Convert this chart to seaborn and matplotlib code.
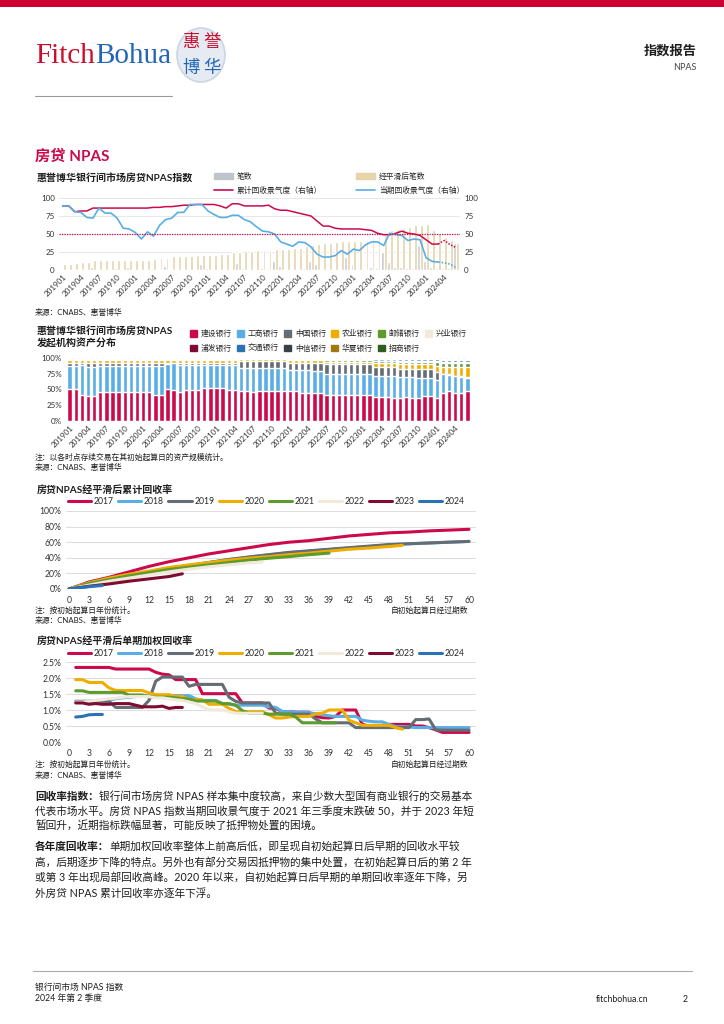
import numpy as np
import pandas as pd
import matplotlib
matplotlib.use('Agg')
import matplotlib.pyplot as plt
from matplotlib.patches import Ellipse, Rectangle, Patch
from matplotlib.lines import Line2D
from matplotlib.ticker import FuncFormatter
import seaborn as sns

# ---------------- data ----------------
# chart 1: 201901 - 202406, monthly
months = [f'{y}{m:02d}' for y in range(2019, 2025) for m in range(1, 13)][:66]
tick_labels = ['201901', '201904', '201907', '201910', '202001', '202004', '202007', '202010',
               '202101', '202104', '202107', '202110', '202201', '202204', '202207', '202210',
               '202301', '202304', '202307', '202310', '202401', '202404']

cnt = [2, 1, 2, 1, 2, 4, 1, 1, 1, 3, 1, 4, 2, 1, 1, 3, 1, 6, 2, 1, 2, 1,
       1, 9, 3, 2, 1, 2, 1, 10, 3, 2, 2, 3, 2, 12, 6, 2, 2, 2, 3, 13,
       8, 2, 2, 2, 2, 18, 9, 3, 2, 4, 3, 25, 11, 4, 4, 3, 3, 35, 12, 4, 3, 3, 3, 37]
cnt_smooth = [8, 8, 10, 11, 11, 14, 14, 14, 14, 14, 14, 14, 14, 14, 14, 15, 16, 17, 19, 20, 20, 20,
              21, 21, 21, 21, 22, 22, 25, 25, 26, 27, 28, 28, 28, 29, 29, 29, 30, 31, 33, 35,
              36, 38, 38, 39, 40, 40, 40, 40, 41, 45, 47, 49, 55, 57, 58, 60, 62, 63, 64, 56, 51, 46, 41, 38]
cum_idx = [89, 89, 81, 82, 82, 86, 86, 86, 86, 86, 86, 86, 86, 86, 86, 87, 87, 88, 88, 89, 90, 90,
           91, 91, 91, 91, 89, 86, 92, 92, 89, 89, 89, 89, 90, 85, 83, 83, 81, 79, 77, 75,
           68, 61, 61, 58, 57, 57, 57, 57, 56, 55, 51, 49, 49, 51, 54, 51, 50, 48, 42, 36, 36, 41, 35, 31]
cur_idx = [89, 89, 81, 80, 73, 72, 86, 79, 79, 72, 58, 57, 52, 43, 53, 47, 62, 70, 72, 80, 80, 91,
           91, 91, 82, 77, 73, 73, 76, 76, 70, 67, 60, 54, 53, 50, 39, 36, 33, 39, 38, 32,
           22, 18, 18, 20, 27, 22, 29, 27, 35, 39, 39, 34, 51, 49, 48, 41, 43, 42, 17, 12, 11, 10, 8, 3]

# chart 2: originator shares (%), bottom -> top
banks = ['建设银行', '工商银行', '中国银行', '农业银行', '邮储银行', '兴业银行',
         '浦发银行', '交通银行', '中信银行', '华夏银行', '招商银行']
jh = [51, 51, 41, 40, 40, 46, 46, 46, 46, 46, 46, 46, 46, 46, 41, 41, 51, 49, 46, 50, 50, 50,
      52, 52, 52, 52, 49, 49, 47, 47, 46, 47, 47, 47, 47, 47, 47, 47, 45, 44, 44, 44, 42, 42,
      42, 41, 42, 42, 42, 42, 38, 38, 38, 37, 37, 38, 37, 37, 39, 39, 36, 44, 47, 44, 44, 47]
gs = [36, 36, 48, 45, 45, 42, 42, 42, 42, 42, 42, 42, 42, 42, 47, 47, 40, 43, 43, 39, 39, 39,
      37, 37, 37, 37, 40, 40, 37, 37, 38, 37, 37, 37, 37, 37, 34, 34, 36, 37, 35, 35, 33, 33,
      33, 34, 33, 33, 33, 33, 34, 34, 34, 35, 33, 32, 33, 31, 29, 29, 29, 30, 26, 27, 26, 22]
zg = [5.5, 5.5, 3.5, 7.5, 7.5, 4.5, 4.5, 4.5, 4.5, 4.5, 4.5, 4.5, 4.5, 4.5, 4.5, 4.5, 1.5, 0.5, 3.5, 3.5, 3.5, 3.5,
      3.5, 3.5, 3.5, 3.5, 3.5, 3.5, 12, 12, 12, 12, 12, 12, 12, 12, 11.5, 11.5, 11.5, 11.5, 13.5, 13.5, 15, 15,
      15, 15, 15, 15, 15, 15, 13.5, 13.5, 13.5, 13.5, 12, 12, 12, 14, 14, 14, 13.5, 1, 1, 1, 1, 1]
ny = [5, 5, 5, 5, 5, 5, 5, 5, 5, 5, 5, 5, 5, 5, 5, 5, 5, 5, 5, 5, 5, 5,
      5, 5, 5, 5, 5, 5, 2, 2, 2, 2, 2, 2, 2, 2, 4, 4, 4, 4, 4, 4, 4, 4,
      4, 4, 4, 4, 4, 4, 6, 6, 6, 6, 8, 8, 8, 8, 8, 8, 9, 10, 11, 13, 14, 15]
yc = [0, 0, 0, 0, 0, 0, 0, 0, 0, 0, 0, 0, 0, 0, 0, 0, 0, 0, 0, 0, 0, 0,
      0, 0, 0, 0, 0, 0, 1, 1, 1, 1, 1, 1, 1, 1, 1.5, 1.5, 1.5, 1.5, 1.5, 1.5, 2.5, 2.5,
      2.5, 2.5, 2.5, 2.5, 2.5, 2.5, 3, 3, 3, 3, 4, 4, 4, 4, 4, 4, 6, 7, 7, 7, 7, 7]
xy = [1, 1, 1, 1, 1, 1, 1, 1, 1, 1, 1, 1, 1, 1, 1, 1, 1, 1, 1, 1, 1, 1,
      1, 1, 1, 1, 1, 1, 0.5, 0.5, 0.5, 0.5, 0.5, 0.5, 0.5, 0.5, 0.5, 0.5, 0.5, 0.5, 0.5, 0.5, 0.5, 0.5,
      0.5, 0.5, 0.5, 0.5, 0.5, 0.5, 0.5, 0.5, 0.5, 0.5, 0.5, 0.5, 0.5, 0.5, 0.5, 0.5, 0.5, 0.5, 0.5, 0.5, 0.5, 0.5]
pf = [0, 0, 0, 0, 0, 0, 0, 0, 0, 0, 0, 0, 0, 0, 0, 0, 0, 0, 0, 0, 0, 0,
      0, 0, 0, 0, 0, 0, 0, 0, 0, 0, 0, 0, 0, 0, 0.5, 0.5, 0.5, 0.5, 0.5, 0.5, 1, 1,
      1, 1, 1, 1, 1, 1, 1, 1, 1, 1, 1, 1, 1, 1, 1, 1, 1, 1, 1, 1, 1, 1]
jt = [0, 0, 0, 0, 0, 0, 0, 0, 0, 0, 0, 0, 0, 0, 0, 0, 0, 0, 0, 0, 0, 0,
      0, 0, 0, 0, 0, 0, 0, 0, 0, 0, 0, 0, 0, 0, 0, 0, 0, 0, 0, 0, 0.5, 0.5,
      0.5, 0.5, 0.5, 0.5, 0.5, 0.5, 2, 2, 2, 2, 2.5, 2.5, 2.5, 2.5, 2.5, 2.5, 3, 4, 4, 4, 4, 4]
zx = [0, 0, 0, 0, 0, 0, 0, 0, 0, 0, 0, 0, 0, 0, 0, 0, 0, 0, 0, 0, 0, 0,
      0, 0, 0, 0, 0, 0, 0, 0, 0, 0, 0, 0, 0, 0, 0.5, 0.5, 0.5, 0.5, 0.5, 0.5, 0.5, 0.5,
      0.5, 0.5, 0.5, 0.5, 0.5, 0.5, 1, 1, 1, 1, 1, 1, 1, 1, 1, 1, 1, 1, 1, 1, 1, 1]
hx = [1.5, 1.5, 1.5, 1.5, 1.5, 1.5, 1.5, 1.5, 1.5, 1.5, 1.5, 1.5, 1.5, 1.5, 1.5, 1.5, 1.5, 1.5, 1.5, 1.5, 1.5, 1.5,
      1.5, 1.5, 1.5, 1.5, 1.5, 1.5, 0.5, 0.5, 0.5, 0.5, 0.5, 0.5, 0.5, 0.5, 0.5, 0.5, 0.5, 0.5, 0.5, 0.5, 0.5, 0.5,
      0.5, 0.5, 0.5, 0.5, 0.5, 0.5, 0.5, 0.5, 0.5, 0.5, 0.5, 0.5, 0.5, 0.5, 0.5, 0.5, 0.5, 0.5, 0.5, 0.5, 0.5, 0.5]
zs = [0, 0, 0, 0, 0, 0, 0, 0, 0, 0, 0, 0, 0, 0, 0, 0, 0, 0, 0, 0, 0, 0,
      0, 0, 0, 0, 0, 0, 0, 0, 0, 0, 0, 0, 0, 0, 0, 0, 0, 0, 0, 0, 0.5, 0.5,
      0.5, 0.5, 0.5, 0.5, 0.5, 0.5, 0.5, 0.5, 0.5, 0.5, 0.5, 0.5, 0.5, 0.5, 0.5, 0.5, 0.5, 1, 1, 1, 1, 1]

# chart 3: cumulative recovery (%) by vintage, read every 3 periods
years = ['2017', '2018', '2019', '2020', '2021', '2022', '2023', '2024']
c3_x_full = [0, 3, 6, 9, 12, 15, 18, 21, 24, 27, 30, 33, 36, 39, 42, 45, 48, 51, 54, 57, 60]
c3_2017 = [0, 9, 15, 22, 29, 35, 40, 45, 49, 53, 57, 60, 62, 65, 68, 70, 72, 73, 74.5, 75.5, 76.5]
c3_2018 = [0, 7, 13, 17.5, 22, 26.5, 30, 34, 37.5, 41, 44, 46.5, 48.5, 50.5, 52.5, 54.5, 56.5, 58, 59, 60, 61]
c3_2019 = [0, 7, 13, 18, 22, 27, 30, 34, 38, 41, 44, 47, 49, 51, 53, 55, 57, 58, 59, 60, 61]
c3_x_2020 = [0, 3, 6, 9, 12, 15, 18, 21, 24, 27, 30, 33, 36, 39, 42, 45, 48, 50]
c3_2020 = [0, 8, 14, 19, 23, 27.5, 31, 34, 37, 39.5, 41.5, 44, 46, 48.5, 51, 52.5, 54.5, 56]
c3_x_2021 = [0, 3, 6, 9, 12, 15, 18, 21, 24, 27, 30, 33, 36, 39]
c3_2021 = [0, 7, 12, 17, 21, 25, 28, 31, 34, 37, 39.5, 41.5, 44, 46]
c3_x_2022 = [0, 3, 6, 9, 12, 15, 18, 21, 24, 27, 29]
c3_2022 = [0, 5, 10, 14, 18, 22, 25.5, 28.5, 31, 33.5, 34.5]
c3_x_2023 = [0, 3, 6, 9, 12, 15, 17]
c3_2023 = [0, 3.5, 6.5, 10, 13, 16, 19.5]
c3_x_2024 = [0, 3, 5]
c3_2024 = [0, 3, 4.5]

# chart 4: single-period weighted recovery (%), from period 1
c4_2017 = [2.33, 2.33, 2.33, 2.33, 2.33, 2.33, 2.28, 2.28, 2.28, 2.28, 2.28, 2.28,
           2.18, 2.12, 2.10, 1.95, 1.95, 1.95, 1.95, 1.51, 1.51, 1.51, 1.51, 1.51, 1.51,
           1.22, 1.22, 1.22, 1.22, 1.06, 1.05, 0.95, 0.95, 0.93, 0.93, 0.93,
           0.80, 0.76, 0.75, 0.80, 1.00, 1.00, 1.00, 0.55, 0.50, 0.50, 0.52,
           0.55, 0.55, 0.55, 0.55, 0.50, 0.50, 0.45, 0.38, 0.30, 0.30, 0.30, 0.30, 0.30]
c4_2018 = [1.27, 1.27, 1.27, 1.28, 1.30, 1.30, 1.35, 1.38, 1.40, 1.42, 1.44, 1.45,
           1.45, 1.45, 1.45, 1.45, 1.45, 1.45, 1.35, 1.30, 1.30, 1.30,
           1.20, 1.18, 1.15, 1.15, 1.15, 1.15, 1.15, 1.10, 1.08, 0.95, 0.95, 0.93, 0.93, 0.92,
           0.88, 0.85, 0.82, 0.80, 0.80, 0.80, 0.80, 0.68, 0.65, 0.63, 0.63, 0.55,
           0.48, 0.48, 0.47, 0.45, 0.45, 0.45, 0.45, 0.45, 0.45, 0.45, 0.45, 0.45]
c4_2019 = [1.27, 1.27, 1.27, 1.27, 1.27, 1.27, 1.08, 1.08, 1.08, 1.08, 1.08,
           1.30, 1.90, 2.03, 2.03, 2.03, 2.03, 1.74, 1.80, 1.80, 1.80, 1.80, 1.80,
           1.40, 1.27, 1.22, 1.22, 1.22, 1.22, 1.22, 0.90, 0.87, 0.87, 0.87, 0.87, 0.87,
           0.72, 0.60, 0.60, 0.60, 0.60, 0.60, 0.45, 0.45, 0.45, 0.45, 0.45, 0.45, 0.45, 0.45, 0.45,
           0.70, 0.70, 0.72, 0.38, 0.37, 0.37, 0.37, 0.37, 0.37]
c4_2020 = [1.95, 1.95, 1.86, 1.86, 1.86, 1.69, 1.61, 1.61, 1.61, 1.61, 1.61,
           1.53, 1.48, 1.48, 1.48, 1.42, 1.42, 1.32, 1.32, 1.32, 1.18, 1.18, 1.18, 1.05,
           0.95, 0.95, 0.95, 0.95, 0.95, 0.85, 0.75, 0.75, 0.78, 0.80, 0.80, 0.80,
           0.88, 0.90, 1.00, 1.00, 1.00, 0.68, 0.60, 0.52, 0.52, 0.52, 0.52, 0.52, 0.45, 0.40]
c4_2021 = [1.60, 1.60, 1.55, 1.55, 1.55, 1.55, 1.55, 1.55, 1.47, 1.47, 1.47,
           1.40, 1.40, 1.40, 1.40, 1.38, 1.35, 1.35, 1.28, 1.28, 1.28, 1.28, 1.20, 1.20, 1.15,
           0.98, 0.90, 0.90, 0.90, 0.87, 0.87, 0.87, 0.87, 0.78, 0.60, 0.60, 0.60, 0.60, 0.60, 0.60]
c4_2022 = [1.25, 1.25, 1.27, 1.30, 1.32, 1.35, 1.37, 1.40, 1.42, 1.42, 1.42, 1.42, 1.38, 1.38,
           1.35, 1.32, 1.30, 1.25, 1.20, 1.10, 1.00, 1.00, 1.00, 0.95, 0.90, 0.90, 0.90, 0.90, 0.90]
c4_2023 = [1.22, 1.22, 1.18, 1.20, 1.18, 1.18, 1.20, 1.20, 1.20, 1.15, 1.10, 1.10, 1.10, 1.12, 1.05, 1.08, 1.08]
c4_2024 = [0.78, 0.80, 0.85, 0.86, 0.86]

# ---------------- style ----------------
RED = '#cc0a4b'
LBLUE = '#5aaee6'
GRAY = '#646c74'
ORANGE = '#f0ad00'
GREEN = '#5e9b2d'
BEIGE = '#f1e9da'
DRED = '#7d0c30'
BLUE = '#2a72b5'
year_colors = dict(zip(years, [RED, LBLUE, GRAY, ORANGE, GREEN, BEIGE, DRED, BLUE]))
bank_colors = [RED, LBLUE, GRAY, ORANGE, GREEN, BEIGE, DRED, BLUE, '#3b3f44', '#a07a10', '#2f5f1f']
BAR_GRAY = '#bfc4ca'
BAR_BEIGE = '#e6d4aa'
TXT = '#1e1e1e'
TICK = '#333333'
GRID = '#dedede'

sns.set_theme(style='white')
plt.rcParams['font.family'] = ['Lato', 'Noto Sans CJK SC', 'DejaVu Sans']
plt.rcParams['axes.unicode_minus'] = False

W, H = 724, 1024
fig = plt.figure(figsize=(W / 100, H / 100), dpi=100)


def box(x0, y0, x1, y1):
    return [x0 / W, 1 - y1 / H, (x1 - x0) / W, (y1 - y0) / H]


def txt(x, y, s, size, **kw):
    kw.setdefault('color', TXT)
    kw.setdefault('va', 'center')
    return fig.text(x / W, 1 - y / H, s, fontsize=size, **kw)


def clean(ax, size=5.8):
    for sp in ax.spines.values():
        sp.set_visible(False)
    ax.tick_params(axis='both', length=0, labelsize=size, colors=TICK, pad=3)
    ax.set_xlabel('')
    ax.set_ylabel('')


# ---------------- header ----------------
fig.add_artist(Rectangle((0, 1 - 7 / H), 1, 7 / H, transform=fig.transFigure, color='#cc0033', lw=0))
t = txt(35, 56, 'Fitch', 21, color='#c8102e', family='Liberation Serif')
r = fig.canvas.get_renderer()
bb = t.get_window_extent(renderer=r)
txt(bb.x1, 56, 'Bohua', 21, color='#2366b5', family='Liberation Serif')
fig.add_artist(Ellipse((201 / W, 1 - 55 / H), 48 / W, 54 / H, transform=fig.transFigure,
                       facecolor='#e6ebf3', edgecolor='#ccd5e4', lw=1.2))
for ch, x, y, c in [('惠', 191, 42, '#c8102e'), ('誉', 212, 42, '#c8102e'),
                    ('博', 191, 68, '#2366b5'), ('华', 212, 68, '#2366b5')]:
    txt(x, y, ch, 12.5, color=c, ha='center', fontweight='light')
fig.add_artist(Line2D([35 / W, 172 / W], [1 - 96 / H, 1 - 96 / H], transform=fig.transFigure,
                      color='#9a9a9a', lw=0.8))
txt(697, 50, '指数报告', 9.5, fontweight='bold', ha='right')
txt(697, 68, 'NPAS', 6.5, ha='right', color='#444444')

txt(35, 157, '房贷 NPAS', 11, fontweight='bold', color=RED)

# ---------------- chart 1 ----------------
txt(37, 179, '惠誉博华银行间市场房贷NPAS指数', 7.2, fontweight='bold')
ax1 = fig.add_axes(box(59, 198, 460, 270))
df1 = pd.DataFrame({'idx': list(range(66)) * 2,
                    'val': cnt + cnt_smooth,
                    'series': ['笔数'] * 66 + ['经平滑后笔数'] * 66})
sns.barplot(data=df1, x='idx', y='val', hue='series', hue_order=['笔数', '经平滑后笔数'],
            palette=[BAR_GRAY, BAR_BEIGE], width=0.95, saturation=1, ax=ax1, legend=False)
ax1.set_ylim(0, 100)
ax1.set_yticks([0, 25, 50, 75, 100])
ax1.yaxis.grid(True, color=GRID, lw=0.5)
ax1.set_axisbelow(True)
ax1r = ax1.twinx()
xi = list(range(66))
sns.lineplot(x=xi[:63], y=cum_idx[:63], color=RED, lw=1.1, ax=ax1r)
sns.lineplot(x=xi[62:], y=cum_idx[62:], color=RED, lw=1.1, linestyle=(0, (1, 1)), ax=ax1r)
sns.lineplot(x=xi[:63], y=cur_idx[:63], color=LBLUE, lw=1.2, ax=ax1r)
sns.lineplot(x=xi[62:], y=cur_idx[62:], color=LBLUE, lw=1.2, linestyle=(0, (1, 1)), ax=ax1r)
ax1r.axhline(50, color=RED, lw=0.9, ls=(0, (1, 1)))
ax1r.set_ylim(0, 100)
ax1r.set_yticks([0, 25, 50, 75, 100])
ax1.set_xlim(-0.6, 65.6)
ax1.set_xticks(list(range(0, 66, 3)))
ax1.set_xticklabels(tick_labels, rotation=45, ha='right', rotation_mode='anchor')
clean(ax1)
clean(ax1r)
ax1.tick_params(axis='x', pad=2)
h1 = [Patch(color=BAR_GRAY), Line2D([], [], color=RED, lw=1.2),
      Patch(color=BAR_BEIGE), Line2D([], [], color=LBLUE, lw=1.2)]
l1 = ['笔数', '累计回收景气度（右轴）', '经平滑后笔数', '当期回收景气度（右轴）']
fig.legend(h1, l1, loc='upper left', bbox_to_anchor=(214 / W, 1 - 172 / H), ncol=2, frameon=False,
           fontsize=5.6, handlelength=2.4, handleheight=0.8, handletextpad=0.5, columnspacing=4.4,
           labelspacing=0.75, borderpad=0, borderaxespad=0)
txt(35, 312, '来源：CNABS、惠誉博华', 5.6)

# ---------------- chart 2 ----------------
txt(37, 331, '惠誉博华银行间市场房贷NPAS', 7.2, fontweight='bold')
txt(37, 344, '发起机构资产分布', 7.2, fontweight='bold')
ax2 = fig.add_axes(box(66, 358, 471, 421))
shares = pd.DataFrame(dict(zip(banks, [jh, gs, zg, ny, yc, xy, pf, jt, zx, hx, zs])))
shares = shares.div(shares.sum(axis=1), axis=0) * 100
cum = shares.cumsum(axis=1)
for b, c in reversed(list(zip(banks, bank_colors))):
    sns.barplot(x=xi, y=cum[b].values, color=c, width=0.72, saturation=1, ax=ax2)
ax2.set_ylim(0, 100)
ax2.set_yticks([0, 25, 50, 75, 100])
ax2.yaxis.set_major_formatter(FuncFormatter(lambda v, p: f'{v:.0f}%'))
ax2.yaxis.grid(True, color=GRID, lw=0.5)
ax2.set_axisbelow(True)
ax2.set_xlim(-0.6, 65.6)
ax2.set_xticks(list(range(0, 66, 3)))
ax2.set_xticklabels(tick_labels, rotation=45, ha='right', rotation_mode='anchor')
clean(ax2)
ax2.tick_params(axis='x', pad=2)
order = [0, 6, 1, 7, 2, 8, 3, 9, 4, 10, 5]
h2 = [Patch(color=bank_colors[i]) for i in order]
l2 = [banks[i] for i in order]
fig.legend(h2, l2, loc='upper left', bbox_to_anchor=(190 / W, 1 - 329 / H), ncol=6, frameon=False,
           fontsize=5.6, handlelength=0.9, handleheight=0.9, handletextpad=0.5, columnspacing=0.65,
           labelspacing=0.85, borderpad=0, borderaxespad=0)
txt(35, 457, '注：以各时点存续交易在其初始起算日的资产规模统计。', 5.6)
txt(35, 467, '来源：CNABS、惠誉博华', 5.6)

# ---------------- chart 3 ----------------
txt(37, 491, '房贷NPAS经平滑后累计回收率', 7.2, fontweight='bold')
ax3 = fig.add_axes(box(65.7, 511, 475.7, 589))
c3_x = [c3_x_full, c3_x_full, c3_x_full, c3_x_2020, c3_x_2021, c3_x_2022, c3_x_2023, c3_x_2024]
c3_y = [c3_2017, c3_2018, c3_2019, c3_2020, c3_2021, c3_2022, c3_2023, c3_2024]
df3 = pd.concat([pd.DataFrame({'period': xs, 'val': ys, 'year': yr})
                 for yr, xs, ys in zip(years, c3_x, c3_y)])
sns.lineplot(data=df3, x='period', y='val', hue='year', hue_order=years, palette=year_colors,
             lw=2.2, ax=ax3, legend=False)
ax3.set_xlim(-0.5, 61)
ax3.set_ylim(0, 100)
ax3.set_yticks([0, 20, 40, 60, 80, 100])
ax3.yaxis.set_major_formatter(FuncFormatter(lambda v, p: f'{v:.0f}%'))
ax3.set_xticks(list(range(0, 61, 3)))
ax3.yaxis.grid(True, color=GRID, lw=0.8)
ax3.set_axisbelow(True)
clean(ax3, 6.2)
ax3.tick_params(axis='x', pad=5)
hl = [Line2D([], [], color=year_colors[y], lw=2.2) for y in years]
fig.legend(hl, years, loc='center left', bbox_to_anchor=(68 / W, 1 - 502 / H), ncol=8, frameon=False,
           fontsize=6.2, handlelength=2.7, handletextpad=0.3, columnspacing=0.5,
           borderpad=0, borderaxespad=0)
txt(35, 610, '注：按初始起算日年份统计。', 5.6)
txt(35, 620, '来源：CNABS、惠誉博华', 5.6)
txt(468, 610, '自初始起算日经过期数', 5.6, ha='right')

# ---------------- chart 4 ----------------
txt(37, 642, '房贷NPAS经平滑后单期加权回收率', 7.2, fontweight='bold')
ax4 = fig.add_axes(box(65.7, 662, 475.7, 742))
c4_y = [c4_2017, c4_2018, c4_2019, c4_2020, c4_2021, c4_2022, c4_2023, c4_2024]
df4 = pd.concat([pd.DataFrame({'period': list(range(1, len(ys) + 1)), 'val': ys, 'year': yr})
                 for yr, ys in zip(years, c4_y)])
sns.lineplot(data=df4, x='period', y='val', hue='year', hue_order=years, palette=year_colors,
             lw=2.2, ax=ax4, legend=False)
ax4.set_xlim(-0.5, 61)
ax4.set_ylim(0, 2.5)
ax4.set_yticks([0, 0.5, 1.0, 1.5, 2.0, 2.5])
ax4.yaxis.set_major_formatter(FuncFormatter(lambda v, p: f'{v:.1f}%'))
ax4.set_xticks(list(range(0, 61, 3)))
ax4.yaxis.grid(True, color=GRID, lw=0.8)
ax4.set_axisbelow(True)
clean(ax4, 6.2)
ax4.tick_params(axis='x', pad=5)
fig.legend(hl, years, loc='center left', bbox_to_anchor=(68 / W, 1 - 654 / H), ncol=8, frameon=False,
           fontsize=6.2, handlelength=2.7, handletextpad=0.3, columnspacing=0.5,
           borderpad=0, borderaxespad=0)
txt(35, 764, '注：按初始起算日年份统计。', 5.6)
txt(35, 775, '来源：CNABS、惠誉博华', 5.6)
txt(468, 764, '自初始起算日经过期数', 5.6, ha='right')

# ---------------- body text ----------------
BODY = 7.7


def body_line(y, rest, bold=None):
    x = 35
    if bold:
        tb = txt(x, y, bold, BODY, fontweight='bold')
        x = tb.get_window_extent(renderer=fig.canvas.get_renderer()).x1
    txt(x, y, rest, BODY)


body_line(796, '银行间市场房贷 NPAS 样本集中度较高，来自少数大型国有商业银行的交易基本', '回收率指数：')
body_line(811, '代表市场水平。房贷 NPAS 指数当期回收景气度于 2021 年三季度末跌破 50，并于 2023 年短')
body_line(826, '暂回升，近期指标跌幅显著，可能反映了抵押物处置的困境。')
body_line(846, '单期加权回收率整体上前高后低，即呈现自初始起算日后早期的回收水平较', '各年度回收率：')
body_line(862, '高，后期逐步下降的特点。另外也有部分交易因抵押物的集中处置，在初始起算日后的第 2 年')
body_line(877, '或第 3 年出现局部回收高峰。2020 年以来，自初始起算日后早期的单期回收率逐年下降，另')
body_line(893, '外房贷 NPAS 累计回收率亦逐年下浮。')

# ---------------- footer ----------------
fig.add_artist(Line2D([33 / W, 692 / W], [1 - 971 / H, 1 - 971 / H], transform=fig.transFigure,
                      color='#a8adb3', lw=0.8))
txt(35, 987, '银行间市场 NPAS 指数', 6.3)
txt(35, 999, '2024 年第 2 季度', 6.3)
txt(596, 999, 'fitchbohua.cn', 6.3)
txt(688, 999, '2', 6.3, ha='right')

fig.savefig('out.png', dpi=100)
